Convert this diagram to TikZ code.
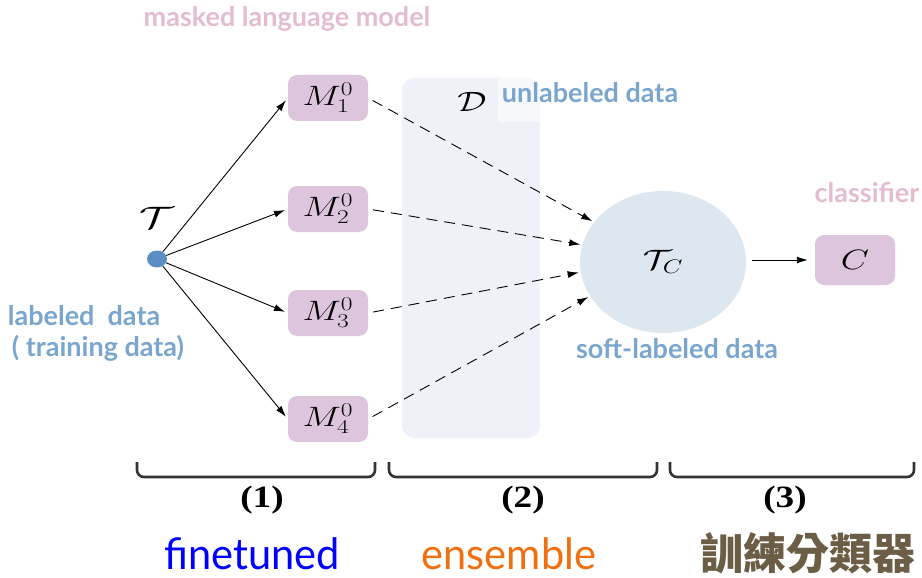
\RequirePackage{fix-cm}
\documentclass[tikz,border=0pt]{standalone}
\usepackage{fontspec}
\newfontfamily\lato{Lato}
\newfontfamily\cjk{Noto Sans CJK TC}
\newfontfamily\tnr{Liberation Serif}
\usetikzlibrary{arrows.meta,shapes.geometric}
\newcommand{\sxm}[1]{\scalebox{1.3}[1]{#1}}
\definecolor{boxpink}{HTML}{DDC6DD}
\definecolor{txtpink}{HTML}{E4BCD2}
\definecolor{txtblue}{HTML}{7AA6CE}
\definecolor{dotblue}{HTML}{5B8EC2}
\definecolor{ellblue}{HTML}{DDE7F0}
\definecolor{panel}{HTML}{EEF2F8}
\definecolor{cjkbrown}{HTML}{6B5E45}
\definecolor{ensorange}{HTML}{F07010}
\begin{document}
\begin{tikzpicture}[x=1pt,y=-1pt,
  mathfont/.style={font=\fontsize{28}{32}\selectfont},
  mbox/.style={draw=none,fill=boxpink,rounded corners=9pt,minimum width=80pt,minimum height=46pt,inner sep=0pt,mathfont},
  pinklabel/.style={text=txtpink,font=\fontsize{27}{32}\selectfont\lato\bfseries},
  bluelabel/.style={text=txtblue,font=\fontsize{27}{32}\selectfont\lato\bfseries},
  solidarrow/.style={-{Latex[length=11pt,width=7pt]},line width=0.9pt,black,shorten >=3pt},
  dasharrow/.style={-{Latex[length=11pt,width=7pt]},line width=0.9pt,black,dash pattern=on 11pt off 7pt,shorten <=5pt,shorten >=2pt},
  bracket/.style={line width=2.6pt,draw=black!80,rounded corners=7pt},
  steplabel/.style={font=\fontsize{31}{36}\selectfont\tnr\bfseries},
  bottomlabel/.style={inner sep=0pt,anchor=base,font=\fontsize{42}{46}\selectfont\lato}
]
\useasboundingbox (0,0) rectangle (922,578);
% panel
\fill[panel,rounded corners=12pt] (402,78) rectangle (540,438);
\fill[white,opacity=0.5] (498,78) rectangle (540,122);
\node[mathfont] (Dlab) at (472,102) {\sxm{$\mathcal{D}$}};
\node[bluelabel] (unl) at (590,93) {unlabeled data};
% top label
\node[pinklabel] (mlm) at (287,19) {masked language model};
% M boxes
\node[mbox] (M1) at (328,98) {\sxm{$M_1^0$}};
\node[mbox] (M2) at (328,209) {\sxm{$M_2^0$}};
\node[mbox] (M3) at (328,313) {\sxm{$M_3^0$}};
\node[mbox] (M4) at (328,419) {\sxm{$M_4^0$}};
% T dot
\node[ellipse,fill=dotblue,minimum width=20pt,minimum height=17pt,inner sep=0pt] (T) at (157,259) {};
\node[font=\fontsize{31}{36}\selectfont] (Tlab) at (157,218) {\scalebox{1.4}[1]{$\mathcal{T}$}};
\node[bluelabel] (lab1) at (84,316) {labeled\ \ data};
\node[bluelabel] (lab2) at (98,348) {( training data)};
% Tc ellipse
\node[ellipse,fill=ellblue,minimum width=166pt,minimum height=142pt,inner sep=0pt,mathfont] (Tc) at (663,262) {\sxm{$\mathcal{T}_C$}};
\node[bluelabel] (soft) at (677,349) {soft-labeled data};
% C box
\node[mbox,minimum height=50pt] (C) at (855,260) {\sxm{$C$}};
\node[pinklabel] (cls) at (867,193) {classifier};
% arrows
\foreach \m in {M1,M2,M3,M4} \draw[solidarrow] (T) -- (\m.west);
\draw[dasharrow] (M1.east) -- (Tc.150);
\draw[dasharrow] (M2.east) -- (Tc.168);
\draw[dasharrow] (M3.east) -- (Tc.187);
\draw[dasharrow] (M4.east) -- (Tc.205);
\coordinate (TcOut) at (752,260);
\draw[solidarrow,shorten >=7pt] (TcOut) -- (C.west);
% brackets
\draw[bracket] (137,462) -- (137,477) -- (375,477) -- (375,462);
\draw[bracket] (389,462) -- (389,477) -- (657,477) -- (657,462);
\draw[bracket] (670,462) -- (670,477) -- (914,477) -- (914,462);
\node[steplabel] (s1) at (262,500) {\scalebox{1.2}[1]{(1)}};
\node[steplabel] (s2) at (523,500) {\scalebox{1.2}[1]{(2)}};
\node[steplabel] (s3) at (785,500) {\scalebox{1.2}[1]{(3)}};
\node[bottomlabel,text=blue] (ft) at (252,569) {\scalebox{0.99}[1.03]{finetuned}};
\node[bottomlabel,text=ensorange] (ens) at (509,569) {\scalebox{0.99}[1.03]{ensemble}};
\node[font=\fontsize{43}{48}\selectfont\cjk\bfseries,text=cjkbrown,inner sep=0pt] (cjkl) at (808,553) {訓練分類器};
\end{tikzpicture}
\end{document}
